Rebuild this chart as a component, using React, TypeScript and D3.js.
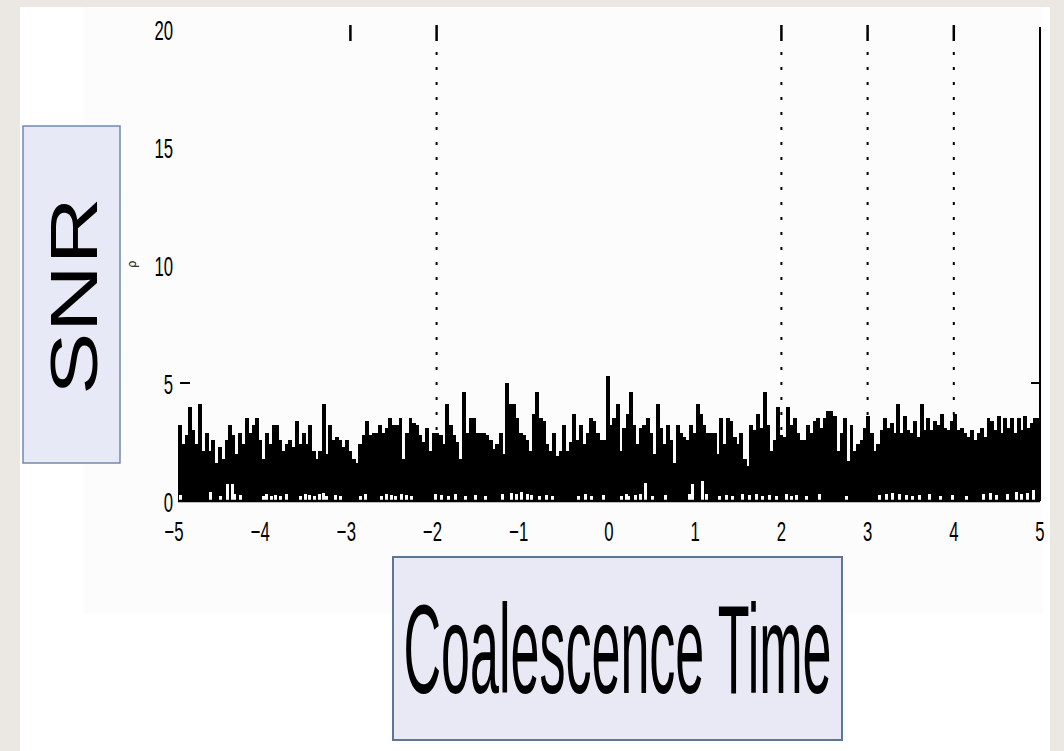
import React from "react";
import * as d3 from "d3";

// SNR envelope, read left to right (three stretches of the time axis)
const snrWest = [
  3.2, 2.4, 2.8, 4.0, 3.0, 2.4, 4.1, 2.1, 2.9, 2.1,
  2.6, 1.6, 2.3, 1.8, 2.6, 3.2, 2.8, 2.0, 2.9, 2.4,
  3.5, 2.9, 3.2, 3.5, 2.6, 1.8, 2.9, 2.4, 3.2, 3.2,
  2.6, 2.1, 2.4, 2.6, 2.3, 3.4, 2.4, 2.9, 2.4, 3.2,
  2.1, 1.8, 2.1, 4.1, 2.0, 3.2, 2.6, 2.7, 2.6, 2.3,
  2.6, 2.1, 1.8, 1.6, 2.4, 2.8, 3.4, 2.8, 2.9, 2.9,
  3.2, 2.9, 3.1, 3.5, 3.2, 3.2, 3.5, 1.8, 2.9, 3.5,
  3.3, 3.2, 2.8, 2.5, 3.1, 2.1, 2.9, 2.9, 2.8, 2.4,
  4.1, 3.2, 2.8, 2.5, 1.8, 4.6, 2.9, 3.5, 3.5, 2.9,
];
const snrMiddle = [
  2.9, 2.9, 2.8, 2.6, 2.2, 2.4, 2.9, 2.0, 5.0, 4.1,
  4.1, 3.5, 2.9, 2.8, 2.6, 2.1, 3.7, 4.6, 3.5, 3.4,
  2.4, 2.1, 2.9, 1.9, 2.1, 3.2, 2.1, 2.5, 3.7, 2.6,
  3.2, 2.4, 2.9, 3.5, 3.4, 2.9, 2.6, 2.6, 5.3, 3.2,
  3.5, 4.1, 2.1, 3.1, 3.7, 4.6, 3.2, 2.4, 3.1, 3.2,
  3.5, 2.9, 2.0, 4.1, 3.1, 2.4, 3.2, 2.6, 1.6, 3.2,
  2.9, 2.7, 2.6, 3.2, 2.9, 4.1, 3.7, 3.2, 2.9, 2.9,
  2.9, 2.0, 3.5, 2.4, 3.5, 3.4, 2.7, 2.4, 2.9, 1.8,
  1.5, 3.2, 3.0, 3.7, 3.1, 4.6, 3.2, 2.1, 2.6, 4.0,
  2.8, 2.7, 4.0, 3.2, 3.5, 2.9, 2.6, 2.6, 3.2, 2.9,
  3.4, 3.5, 3.1, 3.5, 3.8, 3.8, 3.6, 2.1, 2.9, 3.5,
  1.7, 3.2, 2.1, 2.4, 2.6, 3.1, 3.6, 2.9, 2.1, 2.4,
];
const snrEast = [
  3.0, 3.5, 3.1, 3.3, 2.9, 4.1, 2.9, 3.6, 3.0, 2.9,
  3.4, 2.7, 4.1, 3.0, 3.5, 3.0, 3.4, 3.2, 3.7, 3.1,
  3.0, 3.4, 3.7, 3.0, 3.1, 2.9, 2.7, 3.0, 2.6, 2.9,
  3.1, 2.7, 3.5, 3.4, 3.0, 3.6, 2.9, 3.5, 3.1, 3.5,
  2.9, 3.5, 3.0, 3.6, 3.1, 3.3, 3.5, 3.5,
];

// low dips of the trace just above zero (white notches at the base)
const gapTimes = [
  -4.97, -4.62, -4.51, -4.42, -4.37, -4.34, -4.27, -4.01, -3.97, -3.92,
  -3.87, -3.81, -3.74, -3.58, -3.52, -3.47, -3.42, -3.36, -3.31, -3.28,
  -3.17, -3.12, -2.88, -2.83, -2.64, -2.58, -2.52, -2.48, -2.41, -2.35,
  -2.29, -2.01, -1.94, -1.86, -1.78, -1.66, -1.55, -1.43, -1.24, -1.13,
  -1.07, -1.01, -0.95, -0.9, -0.81, -0.73, -0.66, -0.35, -0.27, -0.2,
  -0.06, 0.15, 0.2, 0.23, 0.31, 0.37, 0.42, 0.5, 0.66, 0.93,
  0.97, 1.09, 1.13, 1.28, 1.36, 1.43, 1.55, 1.63, 1.71, 1.78,
  1.86, 1.94, 2.06, 2.12, 2.17, 2.29, 2.44, 2.76, 3.14, 3.22,
  3.29, 3.37, 3.45, 3.52, 3.6, 3.72, 3.84, 3.99, 4.15, 4.34,
  4.42, 4.5, 4.62, 4.73, 4.79, 4.85, 4.92,
];
const gapHeights = [
  0.25, 0.4, 0.2, 0.7, 0.7, 0.3, 0.25, 0.2, 0.3, 0.2,
  0.25, 0.2, 0.3, 0.2, 0.3, 0.25, 0.2, 0.3, 0.35, 0.2,
  0.25, 0.2, 0.2, 0.3, 0.2, 0.3, 0.25, 0.2, 0.3, 0.25,
  0.2, 0.3, 0.25, 0.2, 0.3, 0.2, 0.25, 0.2, 0.3, 0.35,
  0.3, 0.4, 0.3, 0.25, 0.2, 0.25, 0.2, 0.2, 0.3, 0.2,
  0.25, 0.2, 0.3, 0.2, 0.25, 0.3, 0.75, 0.2, 0.25, 0.3,
  0.7, 0.85, 0.3, 0.2, 0.25, 0.2, 0.3, 0.25, 0.3, 0.2,
  0.25, 0.2, 0.3, 0.2, 0.25, 0.2, 0.3, 0.2, 0.25, 0.3,
  0.35, 0.3, 0.25, 0.2, 0.25, 0.3, 0.2, 0.25, 0.2, 0.3,
  0.35, 0.25, 0.3, 0.4, 0.3, 0.35, 0.45,
];

const xTicks = [-5, -4, -3, -2, -1, 0, 1, 2, 3, 4, 5];
const yTicks = [0, 5, 10, 15, 20];
const yTickMarks = [5];
const topTickTimes = [-3, -2, 2, 3, 4];
const markerTimes = [-2, 2, 3, 4];
const xDomain = [-5, 5];
const yDomain = [0, 20];
const xLabel = "Coalescence Time";
const yLabel = "SNR";

const W = 1064;
const H = 751;

export default function App() {
  const snr = [...snrWest, ...snrMiddle, ...snrEast];
  const N = snr.length;
  const x = d3.scaleLinear().domain(xDomain).range([178, 1040]);
  const y = d3.scaleLinear().domain(yDomain).range([501, 29]);
  const tAt = (i: number) => xDomain[0] + ((xDomain[1] - xDomain[0]) * i) / N;
  const fmt = d3.format("d");
  const tickFont = "'Liberation Sans', Arial, sans-serif";

  return (
    <svg
      width={W}
      height={H}
      viewBox={`0 0 ${W} ${H}`}
      style={{ position: "absolute", left: 0, top: 0, display: "block" }}
    >
      <rect x={0} y={0} width={W} height={H} fill="#ebe8e3" />
      <rect x={20} y={7} width={1030} height={H - 7} fill="#ffffff" />
      <rect x={84} y={7} width={959} height={607} fill="#fcfcfc" />

      {/* dotted markers */}
      {markerTimes.map((t) => (
        <line
          key={"m" + t}
          x1={x(t)}
          x2={x(t)}
          y1={52}
          y2={y(0)}
          stroke="#000"
          strokeWidth={2}
          strokeDasharray="3,12"
        />
      ))}

      {/* SNR trace */}
      <g shapeRendering="crispEdges">
        {snr.map((v, i) => {
          const x0 = x(tAt(i));
          const x1 = x(tAt(i + 1));
          return (
            <rect
              key={"b" + i}
              x={x0}
              y={y(v)}
              width={x1 - x0 + 0.6}
              height={y(0) - y(v)}
              fill="#000"
            />
          );
        })}
        {gapTimes.map((t, i) => (
          <rect
            key={"g" + i}
            x={x(t) - 1.5}
            y={y(gapHeights[i])}
            width={3}
            height={y(0) - y(gapHeights[i])}
            fill="#ffffff"
          />
        ))}
      </g>

      {/* axes */}
      <line x1={x(-5)} x2={x(5)} y1={y(0)} y2={y(0)} stroke="#000" strokeWidth={2.5} />
      <line x1={x(5)} x2={x(5)} y1={y(20) - 2} y2={y(0)} stroke="#000" strokeWidth={2} />
      {yTickMarks.map((v) => (
        <g key={"ytm" + v}>
          <line x1={x(-5) + 2} x2={x(-5) + 12} y1={y(v)} y2={y(v)} stroke="#000" strokeWidth={2} />
          <line x1={x(5) - 9} x2={x(5)} y1={y(v)} y2={y(v)} stroke="#000" strokeWidth={2} />
        </g>
      ))}
      {topTickTimes.map((t) => (
        <line key={"tt" + t} x1={x(t)} x2={x(t)} y1={25} y2={41} stroke="#000" strokeWidth={2.5} />
      ))}

      {/* tick labels */}
      {xTicks.map((t) => (
        <text
          key={"xl" + t}
          transform={`translate(${x(t) - (t < 0 ? 4 : 0)},${541}) scale(0.62,1)`}
          textAnchor="middle"
          fontFamily={tickFont}
          fontSize={27}
          fill="#000"
        >
          {fmt(t)}
        </text>
      ))}
      {yTicks.map((v) => (
        <text
          key={"yl" + v}
          transform={`translate(${173},${y(v) + 11}) scale(0.62,1)`}
          textAnchor="end"
          fontFamily={tickFont}
          fontSize={27}
          fill="#000"
        >
          {fmt(v)}
        </text>
      ))}
      <text
        transform={`translate(136,264) rotate(-90)`}
        textAnchor="middle"
        fontFamily={tickFont}
        fontSize={12}
        fill="#000"
      >
        ρ
      </text>

      {/* label boxes */}
      <rect x={23} y={126} width={97} height={337} fill="#e7e9f6" stroke="#7189ad" strokeWidth={1.5} />
      <text
        transform="translate(97,296) rotate(-90) scale(1.42,1)"
        textAnchor="middle"
        fontFamily="'Liberation Sans', Arial, sans-serif"
        fontSize={66}
        fill="#000"
      >
        {yLabel}
      </text>
      <rect x={393} y={557} width={449} height={183} fill="#e9e9f5" stroke="#5f7596" strokeWidth={2} />
      <text
        transform="translate(617.5,693) scale(0.413,1)"
        textAnchor="middle"
        fontFamily="'Liberation Sans', Arial, sans-serif"
        fontSize={126}
        fill="#000"
      >
        {xLabel}
      </text>
    </svg>
  );
}
